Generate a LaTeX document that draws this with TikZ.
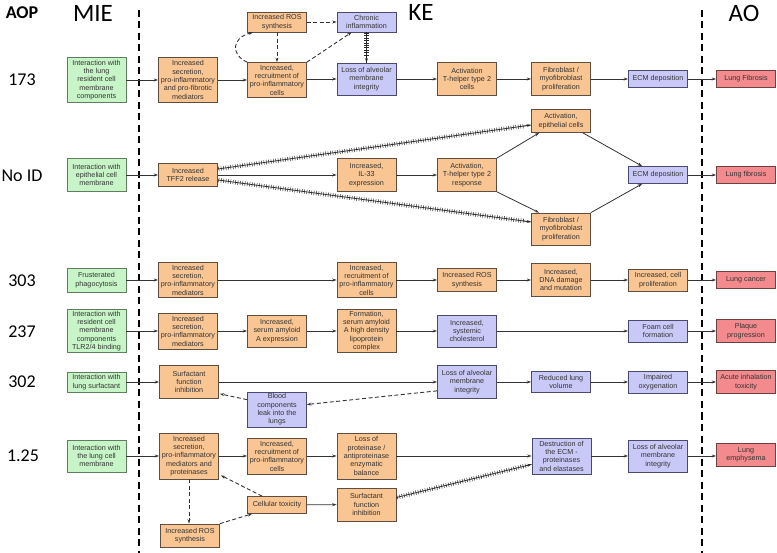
\documentclass[tikz,border=0pt]{standalone}
\usepackage{fontspec}
\setmainfont{Liberation Sans}
\newfontfamily\hdfont{Carlito}
\usetikzlibrary{arrows.meta,calc,decorations.pathreplacing}
\definecolor{mieg}{HTML}{C8F5C8}
\definecolor{miegd}{HTML}{5E7E5E}
\definecolor{keo}{HTML}{F9C592}
\definecolor{keod}{HTML}{5E4E40}
\definecolor{keb}{HTML}{C9C9F8}
\definecolor{kebd}{HTML}{4A4A70}
\definecolor{aor}{HTML}{F38B8E}
\definecolor{aord}{HTML}{704040}
\newcommand{\boxfont}{\fontsize{7.2}{8.3}\selectfont}
\tikzset{
  box/.style={line width=0.7pt, align=center, minimum width=59pt, inner sep=1pt, font=\boxfont, text=black!80},
  mie/.style={box, fill=mieg, draw=miegd},
  keo/.style={box, fill=keo, draw=keod},
  keb/.style={box, fill=keb, draw=kebd},
  ao/.style={box, fill=aor, draw=aord},
  arr/.style={-{Stealth[length=4.5pt,width=3pt]}, line width=0.8pt, draw=black!80},
  dsh/.style={arr, dash pattern=on 4pt off 2.5pt, line width=0.9pt},
  hatch/.style={arr, postaction={draw=black!85, -, line width=0.5pt, decorate,
      decoration={ticks, segment length=2.4pt, amplitude=2.2pt, pre length=1pt, post length=6pt}}},
  sep/.style={line width=1.8pt, dash pattern=on 7pt off 4.5pt},
  hd/.style={font=\hdfont\fontsize{25}{28}\selectfont},
  aop/.style={font=\hdfont\fontsize{18}{20}\selectfont}
}
\begin{document}
\begin{tikzpicture}[x=1pt,y=-1pt]
\useasboundingbox (0,0) rectangle (777,553);
% headers
\node[font=\hdfont\bfseries\fontsize{18}{20}\selectfont] (hAOP) at (22,13) {AOP};
\node[hd] (hMIE) at (93,13) {MIE};
\node[hd] (hKE) at (421,12) {KE};
\node[hd] (hAO) at (744,13) {AO};
\node[aop] (l1) at (22,80) {173};
\node[aop] (l2) at (22,176) {No ID};
\node[aop] (l3) at (22,281) {303};
\node[aop] (l4) at (22,332) {237};
\node[aop] (l5) at (22,382) {302};
\node[aop] (l6) at (23,456) {1.25};
% separators
\coordinate (sa) at (139,10); \coordinate (sb) at (139,553);
\coordinate (sc) at (702,10); \coordinate (sd) at (702,553);
\draw[sep] (sa) -- (sb);
\draw[sep] (sc) -- (sd);
% ---- row 173
\node[mie, minimum height=45pt] (m1) at (96.5,80) {Interaction with\\the lung\\resident cell\\membrane\\components};
\node[keo, minimum height=45pt] (s1) at (188,80) {Increased\\secretion,\\pro-inflammatory\\and pro-fibrotic\\mediators};
\node[keo, minimum height=20pt] (ros1) at (277,22) {Increased ROS\\synthesis};
\node[keb, minimum height=20pt] (chr) at (366.5,22) {Chronic\\inflammation};
\node[keo, minimum height=35pt] (rec1) at (277,80) {Increased,\\recruitment of\\pro-inflammatory\\cells};
\node[keb, minimum height=32pt] (loss1) at (366.5,79) {Loss of alveolar\\membrane\\integrity};
\node[keo, minimum height=33pt] (th1) at (467,79) {Activation\\T-helper type 2\\cells};
\node[keo, minimum height=33pt] (fib1) at (561,79) {Fibroblast /\\myofibroblast\\proliferation};
\node[keb, minimum height=17pt] (ecm1) at (658,79) {ECM deposition};
\node[ao, minimum height=17pt] (lf1) at (746,79) {Lung Fibrosis};
\draw[arr] (m1) -- (s1);
\draw[arr] (s1) -- (rec1);
\draw[arr] (rec1.east |- loss1) -- (loss1);
\draw[arr] (loss1) -- (th1);
\draw[arr] (th1) -- (fib1);
\draw[arr] (fib1) -- (ecm1);
\draw[arr] (ecm1) -- (lf1);
\draw[dsh] (ros1) -- (chr);
\draw[dsh] (ros1) -- (rec1);
\draw[dsh] (rec1.north east) -- ($(chr.south west)+(15,0)$);
\draw[dsh] (rec1.north west) .. controls (231,55) and (231,38) .. ($(ros1.south west)+(6,0)$);
\draw[hatch] (chr) -- (loss1);
% ---- row No ID
\node[mie, minimum height=33pt] (m2) at (96.5,175) {Interaction with\\epithelial cell\\membrane};
\node[keo, minimum height=23pt] (tff) at (188,175) {Increased\\TFF2 release};
\node[keo, minimum height=33pt] (il33) at (366.5,175) {Increased,\\IL-33\\expression};
\node[keo, minimum height=33pt] (th2) at (467,175) {Activation,\\T-helper type 2\\response};
\node[keo, minimum height=23pt] (epi) at (561,121) {Activation,\\epithelial cells};
\node[keo, minimum height=32pt] (fib2) at (561,229) {Fibroblast /\\myofibroblast\\proliferation};
\node[keb, minimum height=17pt] (ecm2) at (658,175) {ECM deposition};
\node[ao, minimum height=17pt] (lf2) at (746,175) {Lung fibrosis};
\draw[arr] (m2) -- (tff);
\draw[arr] (tff) -- (il33);
\draw[arr] (il33) -- (th2);
\draw[arr] (th2.north east) -- ($(epi.south west)+(8,0)$);
\draw[arr] (th2.south east) -- ($(fib2.north west)+(8,0)$);
\draw[arr] ($(epi.south east)+(-8,0)$) -- ($(ecm2.north west)+(14,0)$);
\draw[arr] (fib2.north east) -- ($(ecm2.south west)+(14,0)$);
\draw[arr] (ecm2) -- (lf2);
\draw[hatch] ($(tff.east)+(0,-6)$) -- ($(epi.west)+(0,4)$);
\draw[hatch] ($(tff.east)+(0,5)$) -- ($(fib2.west)+(0,-7)$);
% ---- row 303
\node[mie, minimum height=24pt] (m3) at (96.5,280) {Frusterated\\phagocytosis};
\node[keo, minimum height=35pt] (s3) at (188,280) {Increased\\secretion,\\pro-inflammatory\\mediators};
\node[keo, minimum height=35pt] (rec3) at (366.5,280) {Increased,\\recruitment of\\pro-inflammatory\\cells};
\node[keo, minimum height=23pt] (ros3) at (467,280) {Increased ROS\\synthesis};
\node[keo, minimum height=33pt] (dna) at (561,280) {Increased,\\DNA damage\\and mutation};
\node[keo, minimum height=22pt] (prol) at (658,280) {Increased, cell\\proliferation};
\node[ao, minimum height=17pt] (lc) at (746,280) {Lung cancer};
\draw[arr] (m3) -- (s3);
\draw[arr] (s3) -- (rec3);
\draw[arr] (rec3) -- (ros3);
\draw[arr] (ros3) -- (dna);
\draw[arr] (dna) -- (prol);
\draw[arr] (prol) -- (lc);
% ---- row 237
\node[mie, minimum height=43pt] (m4) at (96.5,331) {Interaction with\\resident cell\\membrane\\components\\TLR2/4 binding};
\node[keo, minimum height=36pt] (s4) at (188,331) {Increased\\secretion,\\pro-inflammatory\\mediators};
\node[keo, minimum height=32pt] (saa) at (277,331) {Increased,\\serum amyloid\\A expression};
\node[keo, minimum height=43pt] (form) at (366.5,331) {Formation,\\serum amyloid\\A high density\\lipoprotein\\complex};
\node[keb, minimum height=32pt] (chol) at (467,331) {Increased,\\systemic\\cholesterol};
\node[keb, minimum height=22pt] (foam) at (658,331) {Foam cell\\formation};
\node[ao, minimum height=23pt] (plaque) at (746,331) {Plaque\\progression};
\draw[arr] (m4) -- (s4);
\draw[arr] (s4) -- (saa);
\draw[arr] (saa) -- (form);
\draw[arr] (form) -- (chol);
\draw[arr] (chol) -- (foam);
\draw[arr] (foam) -- (plaque);
% ---- row 302
\node[mie, minimum height=20pt] (m5) at (96.5,382) {Interaction with\\lung surfactant};
\node[keo, minimum height=33pt] (surf5) at (189,382) {Surfactant\\function\\inhibition};
\node[keb, minimum height=35pt] (blood) at (277,409.5) {Blood\\components\\leak into the\\lungs};
\node[keb, minimum height=33pt] (loss5) at (467,382) {Loss of alveolar\\membrane\\integrity};
\node[keb, minimum height=21pt] (red5) at (561,382) {Reduced lung\\volume};
\node[keb, minimum height=22pt] (imp) at (658,382) {Impaired\\oxygenation};
\node[ao, minimum height=23pt] (acute) at (746,382) {Acute inhalation\\toxicity};
\draw[arr] (m5) -- (surf5);
\draw[arr] (surf5) -- (loss5);
\draw[arr] (loss5) -- (red5);
\draw[arr] (red5) -- (imp);
\draw[arr] (imp) -- (acute);
\draw[dsh] ($(loss5.south west)+(0,-8)$) -- ($(blood.east)+(0,-5)$);
\draw[dsh] ($(blood.north west)+(0,8)$) -- ($(surf5.south east)+(1,-5)$);
% ---- row 1.25
\node[mie, minimum height=32pt] (m6) at (96.5,456) {Interaction with\\the lung cell\\membrane};
\node[keo, minimum height=46pt] (s6) at (189,456) {Increased\\secretion,\\pro-inflammatory\\mediators and\\proteinases};
\node[keo, minimum height=36pt] (rec6) at (277,456) {Increased,\\recruitment of\\pro-inflammatory\\cells};
\node[keo, minimum height=46pt] (prot) at (366.5,456) {Loss of\\proteinase /\\antiproteinase\\enzymatic\\balance};
\node[keo, minimum height=17pt] (tox) at (277,505) {Cellular toxicity};
\node[keo, minimum height=33pt] (surf6) at (366.5,504.5) {Surfactant\\function\\inhibition};
\node[keo, minimum height=23pt] (ros6) at (190,535.5) {Increased ROS\\synthesis};
\node[keb, minimum height=36pt] (dest) at (561.5,456) {Destruction of\\the ECM -\\proteinases\\and elastases};
\node[keb, minimum height=32pt] (loss6) at (658,456) {Loss of alveolar\\membrane\\integrity};
\node[ao, minimum height=23pt] (emph) at (746,455) {Lung\\emphysema};
\draw[arr] (m6) -- (s6);
\draw[arr] (s6) -- (rec6);
\draw[arr] (rec6) -- (prot);
\draw[arr] (prot) -- (dest);
\draw[arr] (dest) -- (loss6);
\draw[arr] (loss6.east) -- (loss6.east -| emph.west);
\draw[arr] (tox) -- (surf6);
\draw[hatch] ($(surf6.east)+(0,-7)$) -- ($(dest.south west)+(0,-10)$);
\draw[dsh] (s6.south) -- (ros6.north -| s6.south);
\draw[dsh] ($(tox.north west)+(15,0)$) -- ($(s6.south east)+(2,-4)$);
\draw[dsh] (ros6.north east) -- ($(tox.south west)+(5,0)$);
\end{tikzpicture}
\end{document}
